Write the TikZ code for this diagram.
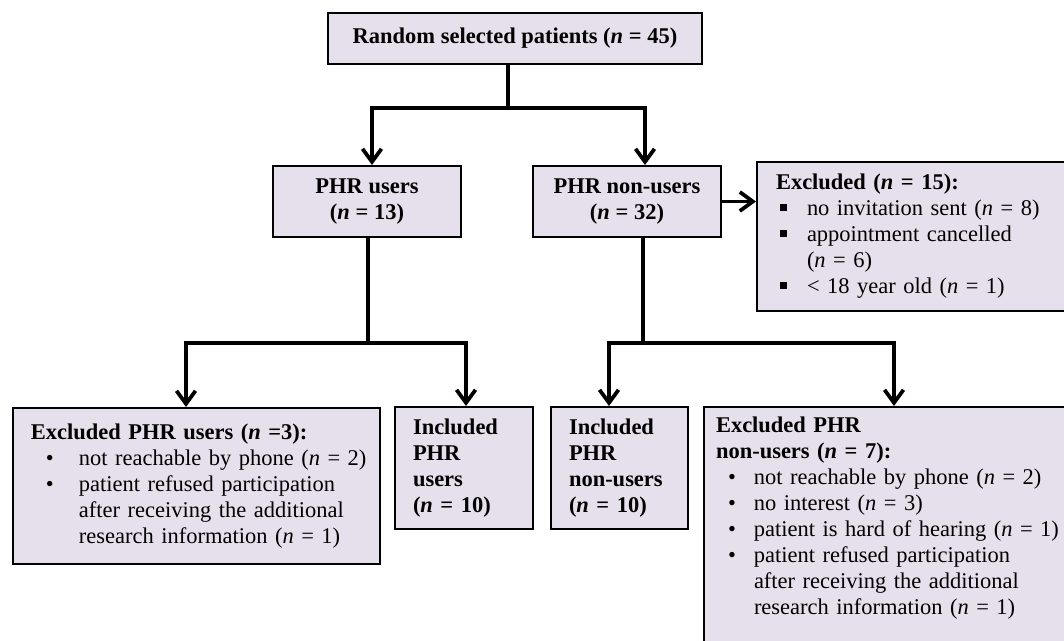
\documentclass[tikz,border=0pt]{standalone}
\usepackage{fontspec}
\setmainfont{Liberation Serif}
\usetikzlibrary{arrows.meta}
\definecolor{boxfill}{HTML}{E6E0EC}
\setlength{\parindent}{0pt}
% bullets for the list boxes
\newcommand{\sqbul}{\makebox[0.62cm][l]{\hspace*{0.08cm}\rule[0.2em]{0.14cm}{0.14cm}}}
\newcommand{\dotbul}[2]{\makebox[#1][l]{\hspace*{#2}\textbullet}}

\begin{document}
\begin{tikzpicture}[x=0.02cm,y=-0.02cm,
  flowbox/.style={draw=black,line width=0.04cm,fill=boxfill,font=\fontsize{12.8}{14.8}\selectfont},
  midbox/.style={flowbox,align=center,inner sep=0pt,font=\fontsize{12.8}{14.8}\selectfont\bfseries},
  listbox/.style={flowbox,anchor=north west},
  incbox/.style={listbox,inner xsep=0.36cm,minimum height=2.44cm,font=\fontsize{12.8}{14.8}\selectfont\bfseries},
  link/.style={line width=0.075cm},
  arrow/.style={link,-{Straight Barb[length=0.26cm,width=0.38cm]}}]
        \useasboundingbox (0,0) rectangle (1064,641);
        \clip (0,0) rectangle (1064,641);

        \node[midbox,minimum width=7.48cm,minimum height=1.02cm] (rand) at (515,38.5) {Random selected patients (\textit{n} = 45)};
        \node[midbox,minimum width=3.76cm,minimum height=1.42cm] (users) at (367,201.5) {PHR users\\(\textit{n} = 13)};
        \node[midbox,minimum width=3.76cm,minimum height=1.42cm] (nonusers) at (627,201.5) {PHR non-users\\(\textit{n} = 32)};

        \node[listbox,inner xsep=0.38cm,text width=5.72cm,minimum height=2.98cm] (excl) at (756,161) {\textbf{Excluded (\textit{n} = 15):}\\
          \sqbul no invitation sent (\textit{n} = 8)\\
          \sqbul appointment cancelled\\
          \hspace*{0.62cm}(\textit{n} = 6)\\
          \sqbul < 18 year old (\textit{n} = 1)};

        \node[listbox,inner xsep=0.36cm,text width=6.62cm,minimum height=3.12cm] (exclusers) at (12,407) {\textbf{Excluded PHR users (\textit{n} =3):}\\
          \dotbul{0.96cm}{0.3cm}\mbox{not reachable by phone (\textit{n} = 2)}\\
          \dotbul{0.96cm}{0.3cm}patient refused participation\\
          \hspace*{0.96cm}after receiving the additional\\
          \hspace*{0.96cm}research information (\textit{n} = 1)};

        \node[incbox,text width=2.04cm] (inclusers) at (394,406) {Included\\PHR\\users\\(\textit{n} = 10)};
        \node[incbox,text width=2.02cm] (inclnon) at (550,406) {Included\\PHR\\non-users\\(\textit{n} = 10)};

        \node[listbox,inner xsep=0.24cm,inner ysep=0.2cm,text width=7.06cm] (exclnon) at (703,406) {\textbf{Excluded PHR}\\
          \textbf{non-users (\textit{n} = 7):}\\
          \dotbul{0.76cm}{0.24cm}not reachable by phone (\textit{n} = 2)\\
          \dotbul{0.76cm}{0.24cm}no interest (\textit{n} = 3)\\
          \dotbul{0.76cm}{0.24cm}patient is hard of hearing (\textit{n} = 1)\\
          \dotbul{0.76cm}{0.24cm}patient refused participation\\
          \hspace*{0.76cm}after receiving the additional\\
          \hspace*{0.76cm}research information (\textit{n} = 1)\rule[-1cm]{0pt}{1cm}};

        % split points of the connectors
        \coordinate (s1) at (508,108);
        \coordinate (ua) at (372,108);
        \coordinate (na) at (645,108);
        \coordinate (s2) at (368,343);
        \coordinate (d1) at (186,343);
        \coordinate (d2) at (466,343);
        \coordinate (s3) at (643,343);
        \coordinate (d3) at (609,343);
        \coordinate (d4) at (894,343);

	\draw[link] (rand.south -| s1) -- (s1);
	\draw[arrow] (s1) -| (users.north -| ua);
	\draw[arrow] (s1) -| (nonusers.north -| na);
	\draw[arrow] (nonusers.east) -- (excl.west |- nonusers.east);
	\draw[link] (users.south -| s2) -- (s2);
	\draw[arrow] (s2) -| (exclusers.north -| d1);
	\draw[arrow] (s2) -| (inclusers.north -| d2);
	\draw[link] (nonusers.south -| s3) -- (s3);
	\draw[arrow] (s3) -| (inclnon.north -| d3);
	\draw[arrow] (s3) -| (exclnon.north -| d4);
\end{tikzpicture}
\end{document}
